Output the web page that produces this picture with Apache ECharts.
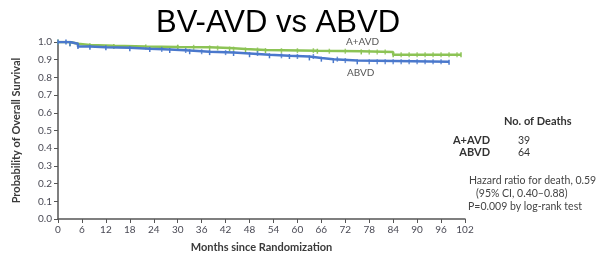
<!DOCTYPE html>
<html><head><meta charset="utf-8">
<script src="https://cdn.jsdelivr.net/npm/echarts@6/dist/echarts.min.js"></script>
<style>html,body{margin:0;padding:0;background:#fff}#c{width:601px;height:258px}</style>
</head><body><div id="c"></div>
<script>
// ---- data ----
const xTicks = [0,6,12,18,24,30,36,42,48,54,60,66,72,78,84,90,96,102];
const yTicks = [0,0.1,0.2,0.3,0.4,0.5,0.6,0.7,0.8,0.9,1.0];
const abvdMonths = [0,2,3,5,8,12,18,23,28,33,38,44,48,53,58,63,66,69,75,98];
const abvdSurv   = [1.0,1.0,0.99,0.975,0.970,0.967,0.962,0.958,0.952,0.945,0.940,0.935,0.928,0.922,0.918,0.910,0.903,0.895,0.888,0.886];
const aavdMonths = [0,3,5,8,14,22,30,38,43,47,52,65,76,84,101];
const aavdSurv   = [1.0,0.99,0.983,0.979,0.975,0.972,0.970,0.966,0.960,0.955,0.951,0.948,0.944,0.928,0.928];
const aavdCensorMonths = [30,34,40,44,50,56,60,64,68,72,78,80,82,86,88,90,92,94,96,98,100];
const aavdCensorSurv   = [0.970,0.970,0.966,0.960,0.955,0.951,0.951,0.951,0.948,0.948,0.944,0.944,0.944,0.928,0.928,0.928,0.928,0.928,0.928,0.928,0.928];
const abvdCensorMonths = [26,32,36,42,50,56,60,64,70,72,78,80,82,84,86,88,90,92,94,96];
const abvdCensorSurv   = [0.958,0.952,0.945,0.940,0.935,0.922,0.918,0.918,0.903,0.895,0.888,0.888,0.888,0.888,0.888,0.888,0.888,0.888,0.888,0.888];
const seriesNames = ['A+AVD','ABVD'];
const deaths = [39,64];
const hrLines = ['Hazard ratio for death, 0.59','(95% CI, 0.40\u20130.88)','P=0.009 by log-rank test'];

const pair = (xs, ys) => xs.map((x,i)=>[x,ys[i]]);
const chart = echarts.init(document.getElementById('c'));
const fontF = 'Lato, "Open Sans", sans-serif';
const axisCol = '#555';
const green = '#8cc355', blue = '#4a78cc';
chart.setOption({
  animation:false,
  title:{text:'BV-AVD vs ABVD', left:273, textAlign:'center', top:3,
    textStyle:{fontFamily:'"Liberation Sans", Arial, sans-serif', fontSize:31, fontWeight:'normal', color:'#000'}},
  grid:{left:58, right:136, top:42, bottom:38},
  xAxis:{type:'value', min:0, max:102, interval:6,
    name:'Months since Randomization', nameLocation:'middle', nameGap:23,
    nameTextStyle:{fontFamily:fontF, fontSize:11, fontWeight:'bold', color:'#3a3a3a'},
    axisLine:{lineStyle:{color:axisCol, width:1.5}},
    axisTick:{show:true, length:4, lineStyle:{color:axisCol}},
    axisLabel:{fontFamily:fontF, fontSize:10, color:'#4a4a55', margin:6,
      formatter:v=> xTicks.includes(v)? String(v):''},
    splitLine:{show:false}},
  yAxis:{type:'value', min:0, max:1, interval:0.1,
    name:'Probability of Overall Survival', nameLocation:'middle', nameGap:36,
    nameTextStyle:{fontFamily:fontF, fontSize:11, fontWeight:'bold', color:'#3a3a3a'},
    axisLine:{show:true, lineStyle:{color:axisCol, width:1.5}},
    axisTick:{show:true, length:4, lineStyle:{color:axisCol}},
    axisLabel:{fontFamily:fontF, fontSize:10, color:'#4a4a55', margin:6,
      formatter:v=> yTicks.some(t=>Math.abs(t-v)<1e-6)? v.toFixed(1):''},
    splitLine:{show:false}},
  series:[
    {name:seriesNames[0], type:'line', step:'end', data:pair(aavdMonths,aavdSurv),
     lineStyle:{color:green, width:2.5}, itemStyle:{color:green},
     symbol:'rect', symbolSize:[1.5,5], showSymbol:true, z:2},
    {name:seriesNames[1], type:'line', step:'end', data:pair(abvdMonths,abvdSurv),
     lineStyle:{color:blue, width:2.5}, itemStyle:{color:blue},
     symbol:'rect', symbolSize:[1.5,5], showSymbol:true, z:3},
    {type:'scatter', data:pair(aavdCensorMonths,aavdCensorSurv), symbol:'rect', symbolSize:[1.5,5],
     itemStyle:{color:green}, z:2},
    {type:'scatter', data:pair(abvdCensorMonths,abvdCensorSurv), symbol:'rect', symbolSize:[1.5,5],
     itemStyle:{color:blue}, z:3}
  ],
  graphic:[
    {type:'text', left:346, top:37, style:{text:seriesNames[0], font:'10px '+fontF, fill:'#555'}},
    {type:'text', left:347, top:68, style:{text:seriesNames[1], font:'10px '+fontF, fill:'#555'}},
    {type:'text', left:504, top:116, style:{text:'No. of Deaths', font:'bold 11px '+fontF, fill:'#333'}},
    {type:'text', right:111, top:135, style:{text:seriesNames[0], font:'bold 11px '+fontF, fill:'#333', align:'right'}},
    {type:'text', right:111, top:147, style:{text:seriesNames[1], font:'bold 11px '+fontF, fill:'#333', align:'right'}},
    {type:'text', left:518, top:135, style:{text:String(deaths[0]), font:'10.5px '+fontF, fill:'#333'}},
    {type:'text', left:518, top:147, style:{text:String(deaths[1]), font:'10.5px '+fontF, fill:'#333'}},
    {type:'text', left:469, top:175, style:{text:hrLines[0], font:'10.5px '+fontF, fill:'#444'}},
    {type:'text', left:476, top:188, style:{text:hrLines[1], font:'10.5px '+fontF, fill:'#444'}},
    {type:'text', left:468, top:201, style:{text:hrLines[2], font:'10.5px '+fontF, fill:'#444'}}
  ]
});
</script></body></html>
